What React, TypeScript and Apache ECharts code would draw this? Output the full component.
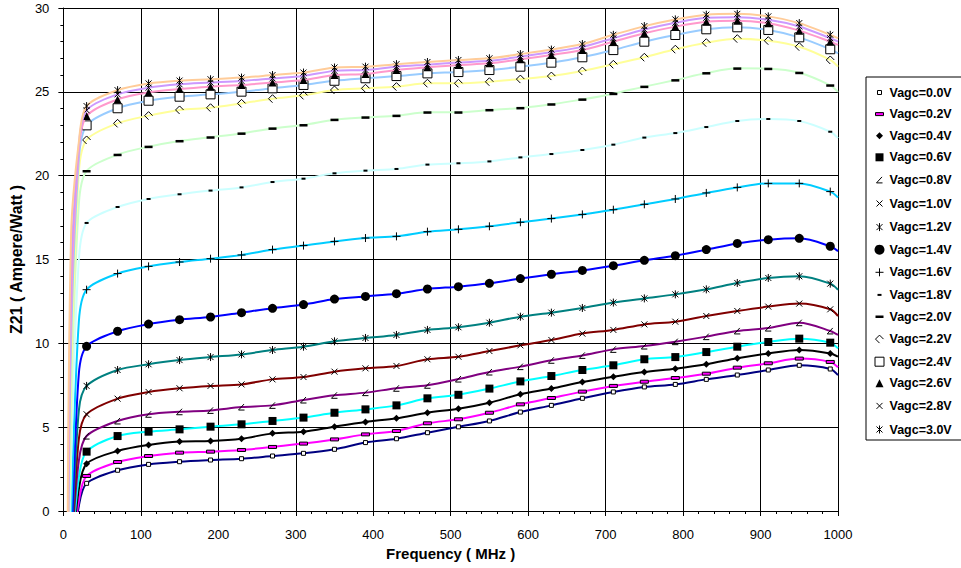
import { useEffect, useRef } from "react";
import * as echarts from "echarts";

const FONT = "Liberation Sans, Arial, sans-serif";

// Frequencies (MHz) of the plotted points; markers appear at 30..990
const FREQ = [5, 10, 20, 30, 70, 110, 150, 190, 230, 270, 310, 350, 390, 430, 470, 510, 550, 590, 630, 670, 710, 750, 790, 830, 870, 910, 950, 990, 1000];

const NAMES = ["Vagc=0.0V", "Vagc=0.2V", "Vagc=0.4V", "Vagc=0.6V", "Vagc=0.8V", "Vagc=1.0V", "Vagc=1.2V", "Vagc=1.4V", "Vagc=1.6V", "Vagc=1.8V", "Vagc=2.0V", "Vagc=2.2V", "Vagc=2.4V", "Vagc=2.6V", "Vagc=2.8V", "Vagc=3.0V"];

const V00 = [-6, -3.5, 0.3, 1.65, 2.43, 2.78, 2.94, 3.04, 3.12, 3.28, 3.44, 3.68, 4.08, 4.31, 4.67, 5.02, 5.37, 5.9, 6.3, 6.72, 7.1, 7.4, 7.55, 7.85, 8.11, 8.41, 8.69, 8.47, 8.1];
const V02 = [-5, -2.8, 0.6, 2.09, 2.92, 3.28, 3.48, 3.54, 3.64, 3.82, 4.02, 4.27, 4.57, 4.77, 5.23, 5.47, 5.86, 6.36, 6.74, 7.12, 7.46, 7.71, 7.93, 8.19, 8.55, 8.81, 9.09, 8.89, 8.57];
const V04 = [-5, -3.0, 1.3, 2.82, 3.58, 3.94, 4.14, 4.17, 4.31, 4.63, 4.73, 5.03, 5.31, 5.53, 5.86, 6.1, 6.46, 6.96, 7.3, 7.69, 8.01, 8.29, 8.49, 8.75, 9.11, 9.4, 9.6, 9.4, 9.2];
const V06 = [-5, -2.8, 2.0, 3.54, 4.47, 4.73, 4.87, 5.03, 5.17, 5.37, 5.57, 5.86, 6.06, 6.3, 6.72, 6.93, 7.3, 7.73, 8.05, 8.41, 8.69, 9.05, 9.18, 9.48, 9.8, 10.08, 10.28, 10.04, 9.7];
const V08 = [-5, -2.5, 3.0, 4.47, 5.37, 5.77, 5.92, 6.0, 6.2, 6.3, 6.62, 6.9, 7.06, 7.32, 7.5, 7.87, 8.29, 8.61, 8.99, 9.28, 9.64, 9.84, 10.1, 10.4, 10.74, 10.91, 11.23, 10.74, 10.5];
const V10 = [-5, -2.5, 4.3, 5.77, 6.7, 7.1, 7.32, 7.46, 7.55, 7.85, 7.99, 8.31, 8.51, 8.65, 9.05, 9.2, 9.54, 9.88, 10.2, 10.58, 10.8, 11.13, 11.29, 11.63, 11.93, 12.19, 12.37, 12.03, 11.63];
const V12 = [-5, -2.3, 6.0, 7.46, 8.41, 8.75, 9.0, 9.18, 9.34, 9.6, 9.8, 10.12, 10.32, 10.5, 10.8, 10.96, 11.23, 11.59, 11.83, 12.11, 12.43, 12.68, 12.92, 13.22, 13.6, 13.9, 14.0, 13.56, 13.2];
const V14 = [-5, -2.0, 8.2, 9.82, 10.72, 11.15, 11.41, 11.57, 11.83, 12.09, 12.31, 12.64, 12.8, 12.96, 13.24, 13.38, 13.58, 13.86, 14.12, 14.35, 14.63, 14.95, 15.23, 15.59, 15.96, 16.18, 16.26, 15.79, 15.5];
const V16 = [-8, -0.3, 11.3, 13.2, 14.16, 14.59, 14.85, 15.05, 15.27, 15.59, 15.83, 16.08, 16.28, 16.38, 16.66, 16.8, 16.98, 17.22, 17.44, 17.69, 17.97, 18.29, 18.61, 18.97, 19.3, 19.54, 19.54, 19.05, 18.7];
const V18 = [-12, 3.0, 15.0, 17.18, 18.13, 18.61, 18.89, 19.11, 19.3, 19.62, 19.82, 20.14, 20.3, 20.4, 20.66, 20.74, 20.85, 21.09, 21.29, 21.53, 21.85, 22.27, 22.54, 22.9, 23.26, 23.38, 23.26, 22.62, 22.24];
const V20 = [-10, 6.0, 18.3, 20.28, 21.25, 21.73, 22.07, 22.29, 22.52, 22.82, 23.02, 23.34, 23.48, 23.58, 23.78, 23.78, 23.92, 24.04, 24.26, 24.55, 24.89, 25.31, 25.7, 26.12, 26.4, 26.38, 26.14, 25.39, 25.0];
const V22 = [-9.4, 8.0, 20.2, 22.13, 23.12, 23.58, 23.92, 24.05, 24.31, 24.59, 24.79, 25.11, 25.21, 25.31, 25.51, 25.51, 25.6, 25.76, 25.94, 26.24, 26.64, 27.06, 27.54, 27.93, 28.17, 28.05, 27.69, 26.9, 26.5];
const V24 = [-8.5, 10.0, 21.0, 23.0, 24.02, 24.47, 24.71, 24.85, 25.01, 25.21, 25.41, 25.66, 25.81, 25.94, 26.1, 26.18, 26.3, 26.5, 26.74, 27.06, 27.49, 27.99, 28.39, 28.73, 28.85, 28.69, 28.25, 27.54, 27.3];
const V26 = [-8, 12.0, 21.5, 23.56, 24.55, 24.97, 25.17, 25.31, 25.41, 25.55, 25.7, 26.0, 26.06, 26.3, 26.46, 26.6, 26.7, 26.94, 27.2, 27.49, 27.99, 28.49, 28.89, 29.18, 29.24, 29.09, 28.65, 27.99, 27.8];
const V28 = [-7.2, 14.0, 21.8, 23.9, 24.85, 25.25, 25.45, 25.55, 25.65, 25.8, 25.95, 26.25, 26.3, 26.5, 26.62, 26.75, 26.85, 27.1, 27.37, 27.68, 28.2, 28.72, 29.12, 29.42, 29.45, 29.3, 28.9, 28.2, 28.0];
const V30 = [-6.2, 16.5, 22.0, 24.15, 25.1, 25.5, 25.67, 25.75, 25.85, 26.0, 26.15, 26.45, 26.5, 26.65, 26.78, 26.9, 27.0, 27.25, 27.52, 27.85, 28.4, 28.92, 29.32, 29.6, 29.65, 29.5, 29.1, 28.4, 28.2];

const VALUES = [V00, V02, V04, V06, V08, V10, V12, V14, V16, V18, V20, V22, V24, V26, V28, V30];

const LINE_COLORS = ["#000080", "#FF00FF", "#000000", "#00FFFF", "#800080", "#800000", "#008080", "#0000FF", "#00CCFF", "#CCFFFF", "#CCFFCC", "#FFFF99", "#99CCFF", "#FF99CC", "#CC99FF", "#FFCC99"];

// marker shapes drawn in a 10x10 box (the leading moves pad the box)
const PAD = "M0,0M10,10";
const SYM_SMALL_SQ = `path://${PAD}M3,3h4v4h-4z`;
const SYM_BAR = `path://${PAD}M1,3.5h8v3h-8z`;
const SYM_DIAMOND = `path://${PAD}M5,1.5L8.5,5L5,8.5L1.5,5z`;
const SYM_SQUARE = `path://${PAD}M1,1h8v8h-8z`;
const SYM_HALF_TRI = `path://${PAD}M7.5,2L2,8L8,8`;
const SYM_X = `path://${PAD}M2,2L8,8M8,2L2,8`;
const SYM_STAR = `path://${PAD}M2,2L8,8M8,2L2,8M5,1L5,9`;
const SYM_PLUS = `path://${PAD}M1,5L9,5M5,1L5,9`;
const SYM_DOT = `path://${PAD}M3,4h4v2h-4z`;
const SYM_DASH = `path://${PAD}M1,4h8v2.5h-8z`;
const SYM_HALF_DIAMOND = `path://${PAD}M5,9L1,5L5,1L9,5`;
const SYM_OPEN_SQ = `path://${PAD}M0.5,0.5h9v9h-9z`;
const SYM_TRI = `path://${PAD}M5,1L9,9L1,9z`;

type Mk = { symbol: string; size: number; fill: string; stroke: string; bw: number };
const MARKERS: Mk[] = [
  { symbol: SYM_SMALL_SQ, size: 10, fill: "#FFFFFF", stroke: "#000", bw: 1 },
  { symbol: SYM_BAR, size: 10, fill: "#FF00FF", stroke: "#000", bw: 1 },
  { symbol: SYM_DIAMOND, size: 10, fill: "#000", stroke: "#000", bw: 0 },
  { symbol: SYM_SQUARE, size: 10, fill: "#000", stroke: "#000", bw: 0 },
  { symbol: SYM_HALF_TRI, size: 10, fill: "none", stroke: "#000", bw: 1 },
  { symbol: SYM_X, size: 10, fill: "none", stroke: "#000", bw: 1 },
  { symbol: SYM_STAR, size: 10, fill: "none", stroke: "#000", bw: 1 },
  { symbol: "circle", size: 9, fill: "#000", stroke: "#000", bw: 0 },
  { symbol: SYM_PLUS, size: 10, fill: "none", stroke: "#000", bw: 1 },
  { symbol: SYM_DOT, size: 10, fill: "#000", stroke: "#000", bw: 0 },
  { symbol: SYM_DASH, size: 10, fill: "#000", stroke: "#000", bw: 0 },
  { symbol: SYM_HALF_DIAMOND, size: 10, fill: "none", stroke: "#000", bw: 1 },
  { symbol: SYM_OPEN_SQ, size: 10, fill: "#FFFFFF", stroke: "#000", bw: 1 },
  { symbol: SYM_TRI, size: 10, fill: "#000", stroke: "#000", bw: 0 },
  { symbol: SYM_X, size: 10, fill: "none", stroke: "#000", bw: 1 },
  { symbol: SYM_STAR, size: 10, fill: "none", stroke: "#000", bw: 1 },
];

export default function App() {
  const ref = useRef<HTMLDivElement>(null);

  useEffect(() => {
    if (!ref.current) return;
    const chart = echarts.init(ref.current, undefined, { renderer: "svg" });

    const series = NAMES.map((name, s) => {
      const mk = MARKERS[s];
      return {
        type: "line",
        name,
        smooth: 0.3,
        clip: true,
        showSymbol: true,
        showAllSymbol: true,
        symbol: mk.symbol,
        symbolSize: mk.size,
        lineStyle: { color: LINE_COLORS[s], width: 2 },
        itemStyle: { color: mk.fill, borderColor: mk.stroke, borderWidth: mk.bw },
        emphasis: { disabled: true },
        z: 2 + s * 0.01,
        data: FREQ.map((f, i) => {
          const item: any = { value: [f, VALUES[s][i]] };
          if (f < 30 || f > 990) item.symbol = "none";
          return item;
        }),
      };
    });

    const legendData = NAMES.map((name, s) => {
      const mk = MARKERS[s];
      return {
        name,
        icon: mk.symbol,
        itemStyle: { color: mk.fill, borderColor: mk.stroke, borderWidth: mk.bw },
      };
    });

    chart.setOption({
      animation: false,
      backgroundColor: "#ffffff",
      grid: { left: 57, top: 8, width: 781, height: 503, containLabel: false },
      legend: {
        orient: "vertical",
        left: 866,
        top: 77,
        padding: [9, 10, 3, 6],
        itemGap: 8.6,
        itemWidth: 10,
        itemHeight: 10,
        borderColor: "#000",
        borderWidth: 1,
        backgroundColor: "#fff",
        selectedMode: false,
        textStyle: { fontFamily: FONT, fontSize: 12.5, fontWeight: "bold", color: "#000" },
        data: legendData,
      },
      xAxis: {
        type: "value",
        min: 0,
        max: 1000,
        interval: 100,
        name: "Frequency ( MHz )",
        nameLocation: "middle",
        nameGap: 32,
        nameTextStyle: { fontFamily: FONT, fontSize: 15, fontWeight: "bold", color: "#000" },
        axisLine: { show: true, onZero: false, lineStyle: { color: "#000", width: 1 } },
        axisTick: { show: true, length: 5, lineStyle: { color: "#000" } },
        minorTick: { show: true, splitNumber: 5, length: 3, lineStyle: { color: "#000" } },
        axisLabel: { margin: 17, fontFamily: FONT, fontSize: 13, color: "#000", formatter: (v: number) => String(v) },
        splitLine: { show: true, lineStyle: { color: "#000", width: 1 } },
      },
      yAxis: {
        type: "value",
        min: 0,
        max: 30,
        interval: 5,
        name: "Z21 ( Ampere/Watt )",
        nameLocation: "middle",
        nameGap: 32,
        nameTextStyle: { fontFamily: FONT, fontSize: 16, fontWeight: "bold", color: "#000" },
        axisLine: { show: true, onZero: false, lineStyle: { color: "#000", width: 1 } },
        axisTick: { show: true, length: 5, lineStyle: { color: "#000" } },
        minorTick: { show: true, splitNumber: 5, length: 3, lineStyle: { color: "#000" } },
        axisLabel: { margin: 14, fontFamily: FONT, fontSize: 13, color: "#000", formatter: (v: number) => String(v) },
        splitLine: { show: true, lineStyle: { color: "#000", width: 1 } },
      },
      series,
    });

    return () => chart.dispose();
  }, []);

  return (
    <div
      ref={ref}
      style={{ position: "fixed", left: 0, top: 0, width: 961, height: 568, background: "#fff" }}
    />
  );
}
